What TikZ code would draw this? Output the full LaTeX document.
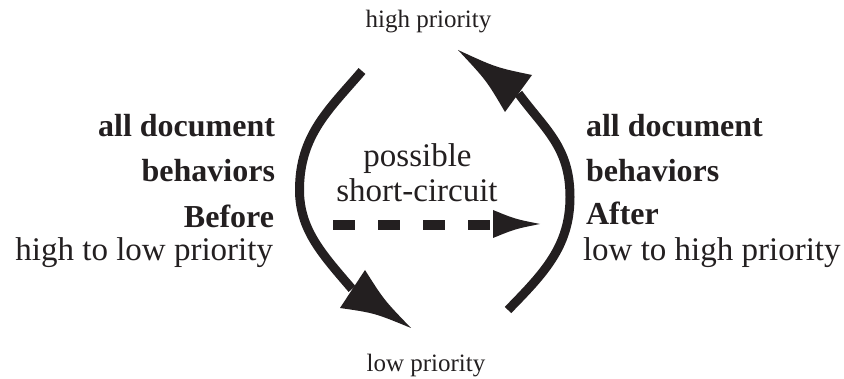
\documentclass[tikz,border=0pt]{standalone}
\usepackage{fontspec}
\setmainfont{Liberation Serif}
\definecolor{ink}{RGB}{35,31,32}
\begin{document}
\begin{tikzpicture}[x=1pt,y=-1pt,
  every node/.style={inner sep=0pt,outer sep=0pt,text=ink},
  boldlbl/.style={font=\fontsize{32}{38}\selectfont\bfseries},
  reglbl/.style={font=\fontsize{33}{40}\selectfont},
  smalllbl/.style={font=\fontsize{25}{30}\selectfont},
  shaft/.style={draw=ink,line width=9pt},
  headfill/.style={fill=ink,draw=none},
  dashshaft/.style={draw=ink,line width=10pt,dash pattern=on 22pt off 23pt}]
\useasboundingbox (0,0) rectangle (844,379);
% labels
\node[smalllbl,anchor=base] (hp) at (428.5,28) {high priority};
\node[smalllbl,anchor=base] (lp) at (426,372) {low priority};
\node[boldlbl,anchor=base east] (l1) at (275,137) {all document};
\node[boldlbl,anchor=base east] (l2) at (275,182) {behaviors};
\node[boldlbl,anchor=base east] (l3) at (274,228) {Before};
\node[reglbl,anchor=base east] (l4) at (273,261) {high to low priority};
\node[boldlbl,anchor=base west] (r1) at (586,137) {all document};
\node[boldlbl,anchor=base west] (r2) at (586,182) {behaviors};
\node[boldlbl,anchor=base west] (r3) at (586,225) {After};
\node[reglbl,anchor=base west] (r4) at (583,261) {low to high priority};
\node[reglbl,anchor=base] (c1) at (417.5,166.5) {possible};
\node[reglbl,anchor=base] (c2) at (417,201.5) {short-circuit};
% left arc (high -> low)
\coordinate (ls) at (362,71);
\coordinate (ll) at (299.5,190);
\coordinate (lm) at (352,289);
\coordinate (lA) at (365,270);
\coordinate (lB) at (340,308);
\coordinate (lT) at (411,328);
\draw[shaft] (ls) .. controls (329.5,109) and (299.5,135) .. (ll)
  .. controls (299.5,230) and (322.75,254.8) .. (lm);
\path[headfill] (lA) .. controls (384,300) .. (lT) .. controls (374.5,313) .. (lB) -- cycle;
% right arc (low -> high)
\coordinate (rs) at (508,310);
\coordinate (rr) at (570,197);
\coordinate (rm) at (518.5,93.5);
\coordinate (rA) at (532,75);
\coordinate (rB) at (505,112);
\coordinate (rT) at (458,50);
\draw[shaft] (rs) .. controls (543,274) and (570,247) .. (rr)
  .. controls (570,147) and (545,129.5) .. (rm);
\path[headfill] (rA) .. controls (496,67.5) .. (rT) .. controls (486.5,80.5) .. (rB) -- cycle;
% dashed short-circuit arrow
\coordinate (ds) at (333,225);
\coordinate (de) at (493,225);
\coordinate (dT) at (540,224);
\draw[dashshaft] (ds) -- (de);
\path[headfill] (493,210) .. controls (515,219) .. (dT) .. controls (515,229) .. (493,238) -- cycle;
\end{tikzpicture}
\end{document}
